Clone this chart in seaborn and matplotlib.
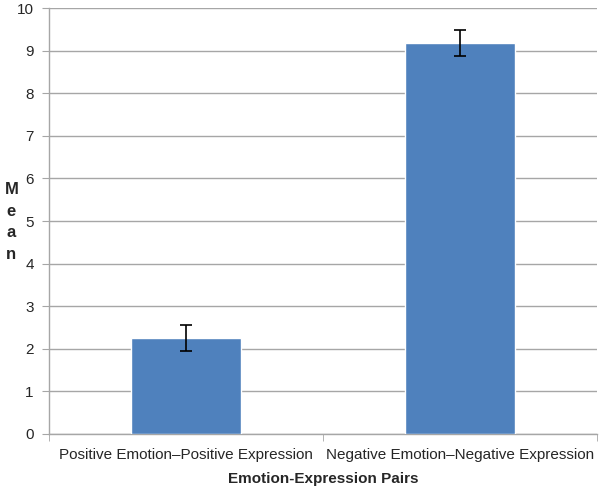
import matplotlib
matplotlib.use("Agg")
import matplotlib.pyplot as plt
import seaborn as sns
import pandas as pd

categories = ["Positive Emotion\u2013Positive Expression", "Negative Emotion\u2013Negative Expression"]
means = [2.25, 9.18]
errors = [0.30, 0.30]
yticks = list(range(0, 11))

sns.set_style("white")
plt.rcParams['font.family'] = ['Liberation Sans', 'DejaVu Sans']

df = pd.DataFrame({"pair": categories, "mean": means})

fig = plt.figure(figsize=(6, 4.86), dpi=100)
ax = fig.add_axes([0.0817, 0.107, 0.9133, 0.8765])
sns.barplot(data=df, x="pair", y="mean", color="#4F81BD", saturation=1, width=0.4, ax=ax, errorbar=None, zorder=3)
ax.errorbar(range(len(categories)), means, yerr=errors, fmt="none", ecolor="black", elinewidth=1.2, capsize=4, capthick=1.2, zorder=4)

ax.set_ylim(0, 10)
ax.set_xlim(-0.5, 1.5)
ax.set_yticks(yticks)
ax.yaxis.grid(True, color="#A6A6A6", linewidth=1)
ax.set_axisbelow(True)
for s in ["top", "right"]:
    ax.spines[s].set_visible(False)
for s in ["left", "bottom"]:
    ax.spines[s].set_color("#A6A6A6")
    ax.spines[s].set_linewidth(1)

ax.tick_params(axis="y", which="major", length=5, color="#A6A6A6", labelsize=11, pad=6, left=True)
ax.tick_params(axis="x", which="major", length=0, labelsize=11, pad=10)
ax.set_xticks([-0.5, 0.5, 1.5], minor=True)
ax.tick_params(axis="x", which="minor", length=5, color="#A6A6A6", bottom=True)

ax.set_xlabel("Emotion-Expression Pairs", fontsize=11, fontweight="bold", labelpad=7)
ax.set_ylabel("")
fig.text(0.019, 0.543, "M\ne\na\nn", fontsize=12, fontweight="bold", ha="center", va="center", linespacing=1.55)

fig.savefig("out.png", dpi=100)
